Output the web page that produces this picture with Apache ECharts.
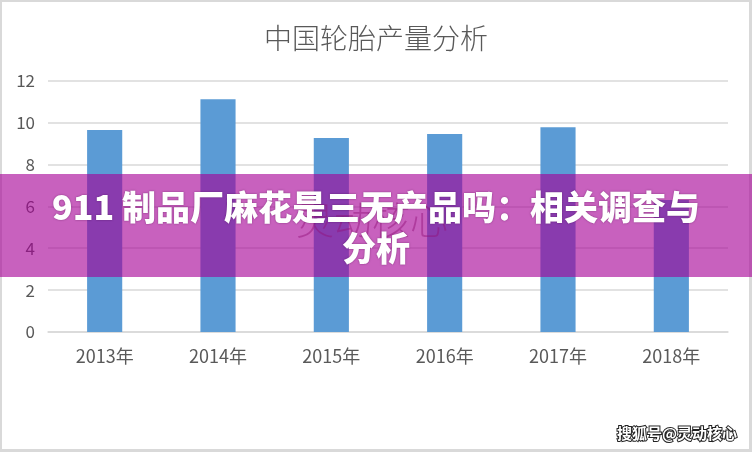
<!DOCTYPE html>
<html>
<head>
<meta charset="utf-8">
<script src="https://cdn.jsdelivr.net/npm/echarts@6/dist/echarts.min.js"></script>
<style>
html,body{margin:0;padding:0;background:#fff;}
#c{width:752px;height:452px;}
</style>
</head>
<body>
<div id="c"></div>
<script>
const titleText = '中国轮胎产量分析';
const categories = ['2013年', '2014年', '2015年', '2016年', '2017年', '2018年'];
const production = [9.64, 11.12, 9.26, 9.45, 9.78, 6.3];
const yMin = 0, yMax = 12, yStep = 2;
const bannerText = '911 制品厂麻花是三无产品吗：相关调查与\n分析';
const faintMark = '灵动核心';
const cornerMark = '搜狐号@灵动核心';

const chart = echarts.init(document.getElementById('c'), null, {renderer: 'canvas'});
const axisFont = '"Liberation Sans Narrow", "Noto Sans CJK SC", sans-serif';
chart.setOption({
  animation: false,
  backgroundColor: '#ffffff',
  title: {
    text: titleText,
    left: 'center',
    top: 19,
    textStyle: {
      color: '#595959',
      fontSize: 28,
      fontWeight: 300,
      fontFamily: '"Noto Sans CJK SC", sans-serif'
    }
  },
  grid: {left: 48, right: 24, top: 80.7, bottom: 120, containLabel: false},
  xAxis: {
    type: 'category',
    data: categories,
    axisLine: {show: true, lineStyle: {color: '#d9d9d9', width: 1.5}},
    axisTick: {show: false},
    axisLabel: {color: '#595959', fontSize: 18, margin: 15, fontFamily: axisFont}
  },
  yAxis: {
    type: 'value',
    min: yMin, max: yMax, interval: yStep,
    axisLine: {show: false},
    axisTick: {show: false},
    splitLine: {lineStyle: {color: '#d9d9d9', width: 1.5}},
    axisLabel: {color: '#595959', fontSize: 17, margin: 13, fontFamily: axisFont}
  },
  series: [{
    type: 'bar',
    data: production,
    barWidth: '31%',
    itemStyle: {color: '#5b9bd5'}
  }],
  graphic: [
    {type: 'rect', left: 0, top: 0, shape: {width: 752, height: 2}, style: {fill: '#d9d9d9'}, z: 100},
    {type: 'rect', left: 0, top: 449, shape: {width: 752, height: 3}, style: {fill: '#d9d9d9'}, z: 100},
    {type: 'rect', left: 0, top: 0, shape: {width: 2, height: 452}, style: {fill: '#d9d9d9'}, z: 100},
    {type: 'rect', left: 749, top: 0, shape: {width: 3, height: 452}, style: {fill: '#d9d9d9'}, z: 100},
    {type: 'text', x: 372, y: 224, z: 101,
      style: {text: faintMark, fill: 'rgba(110,40,70,0.45)', font: '300 38px "DejaVu Serif", "Noto Sans CJK SC", serif', textAlign: 'center', textVerticalAlign: 'middle'}},
    {type: 'rect', left: 0, top: 174, shape: {width: 752, height: 103}, style: {fill: 'rgba(167,0,150,0.62)'}, z: 102},
    {type: 'text', x: 376, y: 227.5, z: 103,
      style: {text: bannerText, fill: '#ffffff', font: '900 34px "Noto Sans CJK SC", sans-serif',
        textAlign: 'center', textVerticalAlign: 'middle', lineHeight: 41,
        textShadowColor: 'rgba(60,0,60,0.5)', textShadowBlur: 2}},
    {type: 'text', x: 737, y: 433, z: 103,
      style: {text: cornerMark, fill: '#ffffff', font: 'bold 15px "Noto Sans CJK SC", sans-serif',
        textAlign: 'right', textVerticalAlign: 'middle', stroke: '#222', lineWidth: 2}}
  ]
});
</script>
</body>
</html>
